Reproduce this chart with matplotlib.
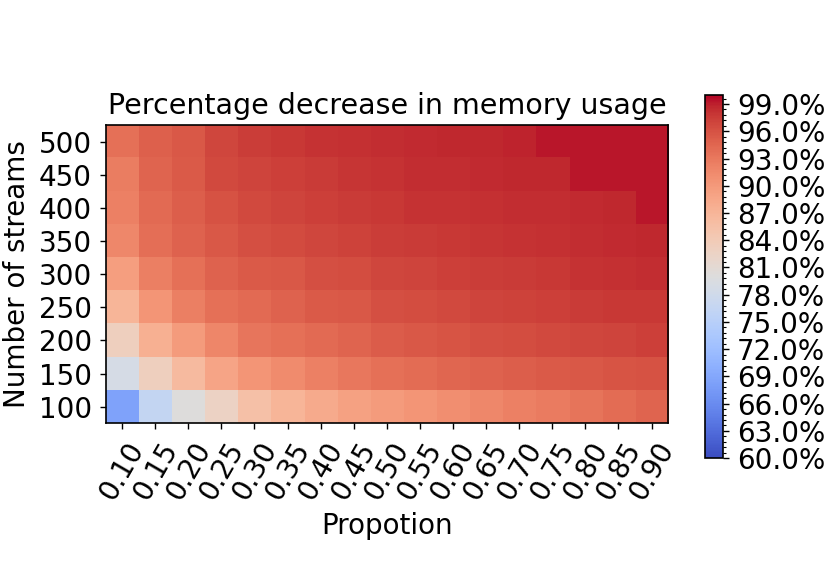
import numpy as np
import matplotlib
matplotlib.use("Agg")
import matplotlib.pyplot as plt
from matplotlib.ticker import FuncFormatter, MultipleLocator

proportions = ["0.10", "0.15", "0.20", "0.25", "0.30", "0.35", "0.40", "0.45", "0.50",
               "0.55", "0.60", "0.65", "0.70", "0.75", "0.80", "0.85", "0.90"]
streams = [100, 150, 200, 250, 300, 350, 400, 450, 500]

# percentage decrease in memory usage, one row per number of streams
row_100 = [68.5, 76.5, 80.0, 82.6, 85.6, 86.9, 88.2, 89.2, 89.8, 90.4, 91.0, 91.6, 92.2, 92.8, 93.4, 94.0, 94.6]
row_150 = [78.8, 83.2, 86.4, 88.8, 90.4, 91.4, 92.2, 93.0, 93.6, 94.0, 94.4, 94.8, 95.1, 95.4, 95.6, 95.8, 96.0]
row_200 = [83.2, 87.6, 89.8, 91.8, 93.2, 93.6, 94.2, 94.6, 95.2, 95.5, 95.8, 96.1, 96.4, 96.6, 96.8, 97.0, 97.2]
row_250 = [87.0, 90.4, 92.4, 93.6, 94.2, 94.8, 95.4, 95.6, 96.2, 96.4, 96.6, 96.9, 97.1, 97.3, 97.5, 97.7, 97.8]
row_300 = [89.4, 92.4, 93.6, 94.8, 95.4, 95.6, 96.1, 96.4, 96.8, 97.0, 97.2, 97.4, 97.6, 97.8, 98.0, 98.2, 98.4]
row_350 = [91.6, 93.8, 94.8, 95.6, 96.2, 96.5, 96.8, 97.1, 97.4, 97.6, 97.8, 97.9, 98.0, 98.2, 98.3, 98.5, 98.6]
row_400 = [92.2, 94.2, 95.0, 96.0, 96.6, 96.9, 97.2, 97.5, 97.8, 98.0, 98.1, 98.2, 98.3, 98.4, 98.5, 98.6, 99.3]
row_450 = [92.6, 94.6, 95.4, 96.6, 97.0, 97.3, 97.6, 97.9, 98.1, 98.3, 98.4, 98.5, 98.6, 98.7, 99.3, 99.3, 99.3]
row_500 = [93.6, 94.9, 95.6, 96.8, 97.4, 97.7, 98.0, 98.2, 98.4, 98.5, 98.6, 98.7, 98.8, 99.3, 99.3, 99.3, 99.3]

data = np.array([row_100, row_150, row_200, row_250, row_300,
                 row_350, row_400, row_450, row_500])

plt.rcParams.update({
    'font.size': 20,
    'font.family': 'DejaVu Sans',
    'axes.linewidth': 1.2,
    'xtick.major.size': 4.5, 'ytick.major.size': 4.5,
    'xtick.major.width': 1.0, 'ytick.major.width': 1.0,
    'xtick.major.pad': 5.5, 'ytick.major.pad': 5.5,
    'ytick.minor.size': 2.5, 'ytick.minor.width': 0.8,
    'axes.labelpad': 5,
})

fig = plt.figure(figsize=(8.31, 5.72), dpi=100)
ax = fig.add_axes([0.127, 0.26, 0.677, 0.521])
cax = fig.add_axes([0.848, 0.199, 0.022, 0.635])

im = ax.imshow(data, cmap='coolwarm', vmin=60, vmax=100, origin='lower', aspect='auto')

ax.set_xticks(np.arange(len(proportions)))
ax.set_xticklabels(proportions, rotation=60)
ax.set_yticks(np.arange(len(streams)))
ax.set_yticklabels(streams)
ax.set_xlabel("Propotion")
ax.set_ylabel("Number of streams")
ax.set_title("Percentage decrease in memory usage", fontsize=20.5, pad=8)

cb = fig.colorbar(im, cax=cax)
cb.outline.set_linewidth(1.2)
cb.set_ticks(np.arange(60, 100, 3))
cb.ax.yaxis.set_major_formatter(FuncFormatter(lambda v, p: f"{v:.1f}%"))
cb.ax.yaxis.set_minor_locator(MultipleLocator(0.6))

fig.savefig("out.png", dpi=100)
